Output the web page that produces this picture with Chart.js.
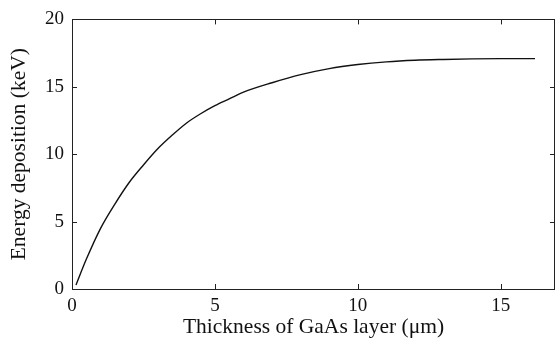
<!DOCTYPE html>
<html>
<head>
<meta charset="utf-8">
<script src="https://cdn.jsdelivr.net/npm/chart.js@4/dist/chart.umd.min.js"></script>
<style>
html,body{margin:0;padding:0;background:#fff;}
#wrap{width:555px;height:352px;position:relative;}
</style>
</head>
<body>
<div id="wrap"><canvas id="c" width="555" height="352"></canvas></div>
<script>
const thickness = [0.14, 0.5, 1, 1.5, 2, 2.5, 3, 3.5, 4, 4.5, 5, 5.5, 6, 7, 8, 9, 10, 11, 12, 13, 14, 15, 16.2];
const energy    = [0.3, 2.2, 4.5, 6.3, 7.9, 9.2, 10.4, 11.4, 12.3, 13.0, 13.6, 14.1, 14.6, 15.3, 15.9, 16.35, 16.65, 16.85, 16.97, 17.03, 17.07, 17.09, 17.09];
const xTicks = [0, 5, 10, 15];
const yTicks = [0, 5, 10, 15, 20];
const xTitle = 'Thickness of GaAs layer (\u03BCm)';
const yTitle = 'Energy deposition (keV)';

const FONT = "'Liberation Serif', 'Times New Roman', serif";
const AXC = '#222';

const framePlugin = {
  id: 'frame',
  afterDraw(chart) {
    const {ctx, chartArea: a, scales} = chart;
    const tl = 5;
    ctx.save();
    ctx.strokeStyle = AXC;
    ctx.lineWidth = 1;
    ctx.beginPath();
    ctx.rect(Math.round(a.left) + 0.5, Math.round(a.top) + 0.5, Math.round(a.right - a.left) - 1, Math.round(a.bottom - a.top));
    xTicks.forEach(v => {
      const px = Math.round(scales.x.getPixelForValue(v)) + 0.5;
      ctx.moveTo(px, a.bottom); ctx.lineTo(px, a.bottom - tl);
      ctx.moveTo(px, a.top); ctx.lineTo(px, a.top + tl);
    });
    yTicks.forEach(v => {
      const py = Math.round(scales.y.getPixelForValue(v)) + 0.5;
      ctx.moveTo(a.left, py); ctx.lineTo(a.left + tl, py);
      ctx.moveTo(a.right, py); ctx.lineTo(a.right - tl, py);
    });
    ctx.stroke();
    ctx.restore();
  }
};

new Chart(document.getElementById('c'), {
  type: 'line',
  data: {
    datasets: [{
      data: thickness.map((x, i) => ({x: x, y: energy[i]})),
      borderColor: '#111',
      borderWidth: 1.4,
      pointRadius: 0,
      fill: false,
      cubicInterpolationMode: 'monotone'
    }]
  },
  plugins: [framePlugin],
  options: {
    responsive: false,
    animation: false,
    devicePixelRatio: 1,
    layout: {padding: {top: 14, right: 0, left: 0, bottom: 0}},
    plugins: {legend: {display: false}, tooltip: {enabled: false}},
    scales: {
      x: {
        type: 'linear',
        min: 0, max: 16.9,
        afterBuildTicks(s) { s.ticks = xTicks.map(v => ({value: v})); },
        afterFit(s) { s.height = 63; },
        grid: {display: false, drawTicks: false},
        border: {display: false},
        ticks: {color: '#111', font: {family: FONT, size: 19}, padding: 6, maxRotation: 0},
        title: {display: true, text: xTitle, color: '#111', font: {family: FONT, size: 21.5}, padding: {top: 0, bottom: 12}}
      },
      y: {
        type: 'linear',
        min: 0, max: 20,
        afterBuildTicks(s) { s.ticks = yTicks.map(v => ({value: v})); },
        afterFit(s) { s.width = 72; },
        grid: {display: false, drawTicks: false},
        border: {display: false},
        ticks: {color: '#111', font: {family: FONT, size: 19}, padding: 8},
        title: {display: true, text: yTitle, color: '#111', font: {family: FONT, size: 21.5}, padding: {top: 6, bottom: 0}}
      }
    }
  }
});
</script>
</body>
</html>
